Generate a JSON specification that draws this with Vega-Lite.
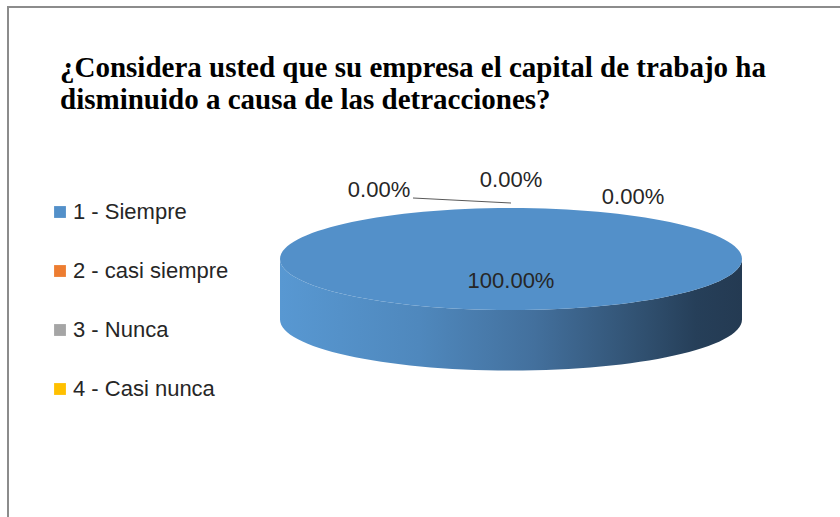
{
  "$schema": "https://vega.github.io/schema/vega-lite/v6.json",
  "width": 840,
  "height": 517,
  "autosize": {"type": "none"},
  "padding": 0,
  "background": "#ffffff",
  "config": {"view": {"stroke": null}},
  "title": {
    "text": ["¿Considera usted que su empresa el capital de trabajo ha", "disminuido a causa de las detracciones?"],
    "anchor": "start",
    "frame": "group",
    "orient": "top",
    "font": "Liberation Serif",
    "fontSize": 29,
    "fontWeight": "bold",
    "color": "#000000",
    "lineHeight": 32,
    "baseline": "alphabetic",
    "offset": 0,
    "dx": 60,
    "dy": 138
  },
  "data": {
    "values": [
      {"categoria": "1 - Siempre", "porcentaje": 1.0},
      {"categoria": "2 - casi siempre", "porcentaje": 0.0},
      {"categoria": "3 - Nunca", "porcentaje": 0.0},
      {"categoria": "4 - Casi nunca", "porcentaje": 0.0}
    ]
  },
  "layer": [
    {
      "mark": {"type": "rect", "filled": false, "stroke": "#8c8c8c", "strokeWidth": 2},
      "transform": [{"filter": "datum.categoria === '1 - Siempre'"}],
      "encoding": {
        "x": {"datum": 8, "type": "quantitative", "scale": {"domain": [0, 840], "nice": false, "zero": false}, "axis": null},
        "x2": {"datum": 900},
        "y": {"datum": 7, "type": "quantitative", "scale": {"domain": [0, 517], "nice": false, "zero": false, "reverse": true}, "axis": null},
        "y2": {"datum": 600}
      }
    },
    {
      "transform": [{"filter": "datum.porcentaje > 0"}],
      "mark": {
        "type": "point",
        "shape": "M -1 0 A 1 0.221 0 0 0 1 0 L 1 0.262 A 1 0.221 0 0 1 -1 0.262 Z",
        "size": 213444,
        "filled": true,
        "opacity": 1,
        "strokeWidth": 0,
        "fill": {
          "gradient": "linear",
          "x1": 0, "y1": 0, "x2": 1, "y2": 0,
          "stops": [
            {"offset": 0, "color": "#5898d2"},
            {"offset": 0.3, "color": "#4f88bd"},
            {"offset": 0.55, "color": "#43709d"},
            {"offset": 0.8, "color": "#2f4e6d"},
            {"offset": 0.9, "color": "#263f59"},
            {"offset": 1, "color": "#243a52"}
          ]
        }
      },
      "encoding": {
        "x": {"datum": 511, "type": "quantitative"},
        "y": {"datum": 259, "type": "quantitative"}
      }
    },
    {
      "transform": [{"filter": "datum.porcentaje > 0"}],
      "mark": {
        "type": "point",
        "shape": "M -1 0 A 1 0.221 0 1 1 1 0 A 1 0.221 0 1 1 -1 0 Z",
        "size": 213444,
        "filled": true,
        "opacity": 1,
        "strokeWidth": 0
      },
      "encoding": {
        "x": {"datum": 511, "type": "quantitative"},
        "y": {"datum": 259, "type": "quantitative"},
        "color": {
          "field": "categoria",
          "type": "nominal",
          "scale": {
            "domain": ["1 - Siempre", "2 - casi siempre", "3 - Nunca", "4 - Casi nunca"],
            "range": ["#5390c9", "#ed7d31", "#a5a5a5", "#ffc000"]
          },
          "legend": {
            "orient": "none",
            "legendX": 49,
            "legendY": 201,
            "title": null,
            "padding": 0,
            "symbolType": "square",
            "symbolSize": 140,
            "symbolStrokeWidth": 0,
            "labelFont": "Liberation Sans",
            "labelFontSize": 22,
            "labelColor": "#262626",
            "labelOffset": 2,
            "labelLimit": 400,
            "rowPadding": 37
          }
        }
      }
    },
    {
      "mark": {"type": "rule", "color": "#595959", "strokeWidth": 1},
      "transform": [{"filter": "datum.categoria === '2 - casi siempre'"}],
      "encoding": {
        "x": {"datum": 413, "type": "quantitative"},
        "x2": {"datum": 511},
        "y": {"datum": 198, "type": "quantitative"},
        "y2": {"datum": 203}
      }
    },
    {
      "transform": [{"filter": "datum.categoria === '1 - Siempre'"}],
      "mark": {"type": "text", "font": "Liberation Sans", "fontSize": 22, "color": "#262626", "align": "center", "baseline": "middle"},
      "encoding": {
        "x": {"datum": 511, "type": "quantitative"},
        "y": {"datum": 281, "type": "quantitative"},
        "text": {"field": "porcentaje", "type": "quantitative", "format": ".2%"}
      }
    },
    {
      "transform": [{"filter": "datum.categoria === '2 - casi siempre'"}],
      "mark": {"type": "text", "font": "Liberation Sans", "fontSize": 22, "color": "#262626", "align": "center", "baseline": "middle"},
      "encoding": {
        "x": {"datum": 379, "type": "quantitative"},
        "y": {"datum": 190, "type": "quantitative"},
        "text": {"field": "porcentaje", "type": "quantitative", "format": ".2%"}
      }
    },
    {
      "transform": [{"filter": "datum.categoria === '3 - Nunca'"}],
      "mark": {"type": "text", "font": "Liberation Sans", "fontSize": 22, "color": "#262626", "align": "center", "baseline": "middle"},
      "encoding": {
        "x": {"datum": 511, "type": "quantitative"},
        "y": {"datum": 180, "type": "quantitative"},
        "text": {"field": "porcentaje", "type": "quantitative", "format": ".2%"}
      }
    },
    {
      "transform": [{"filter": "datum.categoria === '4 - Casi nunca'"}],
      "mark": {"type": "text", "font": "Liberation Sans", "fontSize": 22, "color": "#262626", "align": "center", "baseline": "middle"},
      "encoding": {
        "x": {"datum": 633, "type": "quantitative"},
        "y": {"datum": 197, "type": "quantitative"},
        "text": {"field": "porcentaje", "type": "quantitative", "format": ".2%"}
      }
    }
  ]
}
